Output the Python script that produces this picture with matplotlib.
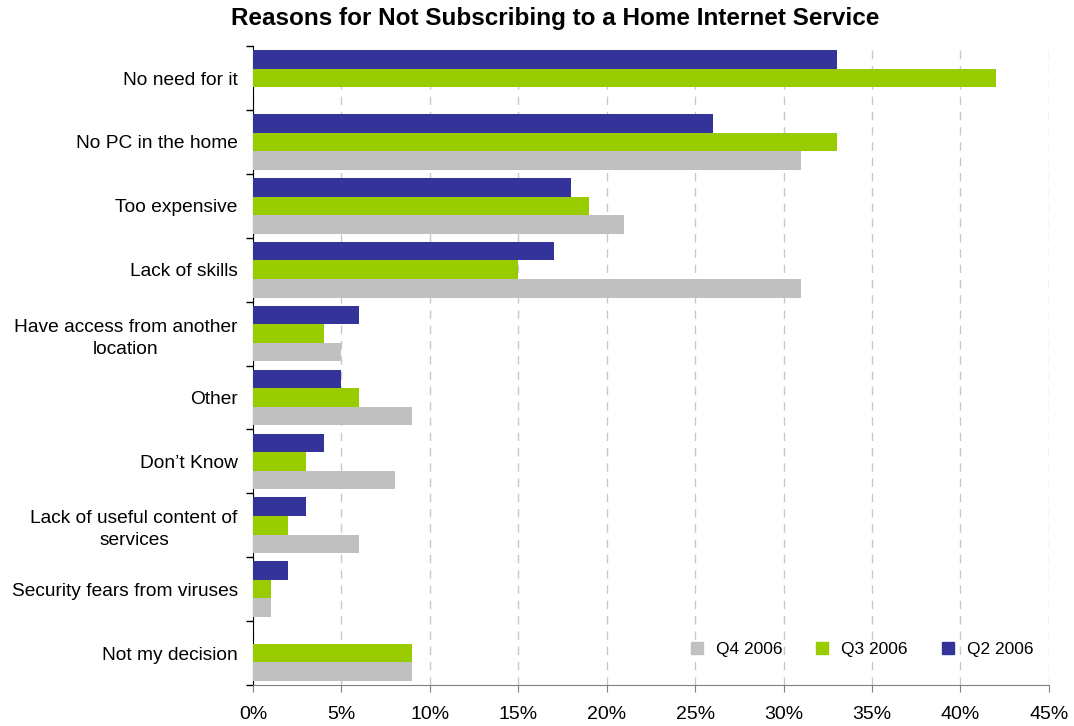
import numpy as np
import matplotlib.pyplot as plt
from matplotlib.lines import Line2D

plt.rcParams['font.family'] = ['Liberation Sans', 'DejaVu Sans']

# survey answers, in percent
categories = ['No need for it', 'No PC in the home', 'Too expensive', 'Lack of skills',
              'Have access from another\nlocation', 'Other', 'Don\u2019t Know',
              'Lack of useful content of\nservices', 'Security fears from viruses',
              'Not my decision']
q2_2006 = [33, 26, 18, 17, 6, 5, 4, 3, 2, 0]
q3_2006 = [42, 33, 19, 15, 4, 6, 3, 2, 1, 9]
q4_2006 = [0, 31, 21, 31, 5, 9, 8, 6, 1, 9]

c_q2 = '#333399'
c_q3 = '#99cc00'
c_q4 = '#c0c0c0'

fig = plt.figure(figsize=(10.74, 7.26), dpi=100)
ax = fig.add_axes([0.2356, 0.0565, 0.741, 0.880])

n = len(categories)
y = np.arange(n)
h = 0.29

ax.barh(y - h, q2_2006, height=h, color=c_q2, zorder=3)
ax.barh(y, q3_2006, height=h, color=c_q3, zorder=3)
ax.barh(y + h, q4_2006, height=h, color=c_q4, zorder=3)

ax.set_ylim(n - 0.5, -0.5)
ax.set_xlim(0, 45)
ax.set_xticks(np.arange(0, 46, 5))
ax.set_xticklabels([f'{v}%' for v in range(0, 46, 5)], fontsize=14)

# labels centred on each group, tick marks on the group boundaries
ax.set_yticks(y)
ax.set_yticklabels(categories, fontsize=13.8, ha='right', multialignment='center',
                   linespacing=1.4)
ax.tick_params(axis='y', length=0, pad=11)
ax.set_yticks(np.arange(-0.5, n, 1), minor=True)
ax.tick_params(axis='y', which='minor', length=5, width=1, color='black')
ax.tick_params(axis='x', length=5, color='#808080', pad=10)

ax.xaxis.grid(True, linestyle=(0, (6, 5)), color='#c8c8c8', linewidth=1, zorder=0)
ax.spines['top'].set_visible(False)
ax.spines['right'].set_visible(False)
ax.spines['left'].set_color('black')
ax.spines['bottom'].set_color('#808080')

fig.text(0.517, 0.975, 'Reasons for Not Subscribing to a Home Internet Service',
         fontsize=17.5, fontweight='bold', ha='center', va='center')

handles = [Line2D([], [], marker='s', linestyle='', color=c, markersize=9)
           for c in (c_q4, c_q3, c_q2)]
ax.legend(handles, ['Q4 2006', 'Q3 2006', 'Q2 2006'], ncol=3, frameon=False,
          loc='lower right', bbox_to_anchor=(1.0, 0.02), fontsize=12.5,
          handletextpad=0.1, columnspacing=1.3)

fig.savefig('out.png', dpi=100)
